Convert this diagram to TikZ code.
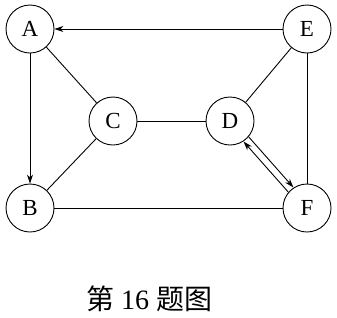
\documentclass[tikz,border=0pt]{standalone}
\usepackage{fontspec}
\setmainfont{Liberation Serif}
\newfontfamily\cjk{Noto Sans CJK SC}
\usetikzlibrary{arrows.meta,positioning}

\begin{document}
\begin{tikzpicture}[x=1pt, y=-1pt,
    vert/.style={circle, draw, line width=0.9pt, minimum size=48pt, inner sep=0pt,
        font=\fontsize{23}{26}\selectfont},
    edge/.style={line width=0.9pt},
    arr/.style={-{Stealth[length=9pt, width=6pt]}, line width=0.9pt}
]
    \useasboundingbox (0,0) rectangle (337,317);
    \node[vert] (A) at (30,29) {A};
    \node[vert] (E) at (307,29) {E};
    \node[vert] (C) at (113,121) {C};
    \node[vert] (D) at (230,121) {D};
    \node[vert] (B) at (30,208) {B};
    \node[vert] (F) at (307,208) {F};

    \draw[arr] (E) -- (A);
    \draw[arr] (A) -- (B);
    \draw[edge] (A) -- (C);
    \draw[edge] (C) -- (B);
    \draw[edge] (C) -- (D);
    \draw[edge] (D) -- (E);
    \draw[edge] (E) -- (F);
    \draw[edge] (B) -- (F);
    \draw[arr, transform canvas={shift={(2.6pt,2.3pt)}}] (D) -- (F);
    \draw[arr, transform canvas={shift={(-2.6pt,-2.3pt)}}] (F) -- (D);

    \node[font=\fontsize{28}{32}\selectfont] (cap) at (149,299) {{\cjk 第} 16 {\cjk 题图}};
\end{tikzpicture}
\end{document}
